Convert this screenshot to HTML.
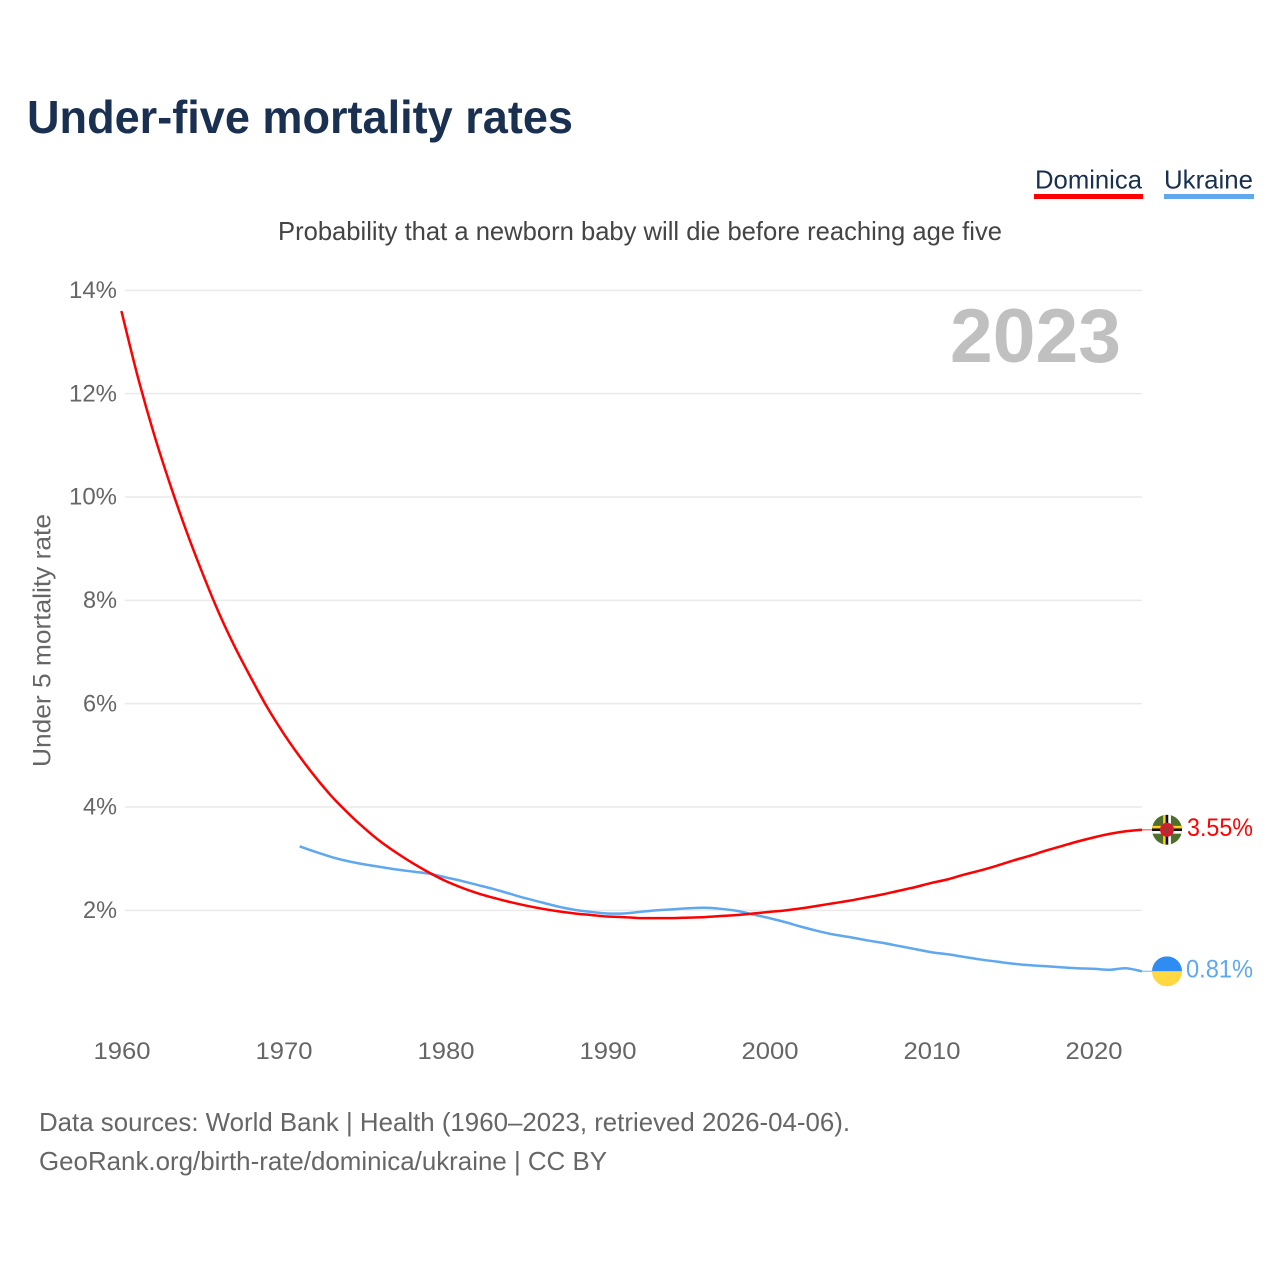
<!DOCTYPE html>
<html lang="en">
<head>
<meta charset="utf-8">
<title>Under-five mortality rates</title>
<style>
html,body{margin:0;padding:0;background:#fff;width:1280px;height:1280px;overflow:hidden}
svg{display:block}
text{font-family:"Liberation Sans",sans-serif}
</style>
</head>
<body>
<svg id="chart" xmlns="http://www.w3.org/2000/svg" width="1280" height="1280" viewBox="0 0 1280 1280">
  <rect width="1280" height="1280" fill="#fff"/>
  <text x="27" y="133" font-size="46" font-weight="700" fill="#1a3050" textLength="546" lengthAdjust="spacingAndGlyphs">Under-five mortality rates</text>
  <g>
    <text x="1035" y="188.5" font-size="26" fill="#1a3050" textLength="107" lengthAdjust="spacingAndGlyphs">Dominica</text>
    <rect x="1034" y="194" width="109" height="5" fill="#ff0000"/>
  </g>
  <g>
    <text x="1164" y="188.5" font-size="26" fill="#1a3050" textLength="89" lengthAdjust="spacingAndGlyphs">Ukraine</text>
    <rect x="1164" y="194" width="90" height="5" fill="#5fa8ef"/>
  </g>
  <text x="278" y="240" font-size="26" fill="#444" textLength="724" lengthAdjust="spacingAndGlyphs">Probability that a newborn baby will die before reaching age five</text>
  <g id="grid"></g>
  <g id="yticks"></g>
  <g id="xticks"></g>
  <text x="950" y="362" font-size="76" font-weight="700" fill="#c0c0c0" textLength="171" lengthAdjust="spacingAndGlyphs">2023</text>
  <text transform="translate(50.5,767) rotate(-90)" font-size="25" fill="#666" textLength="253" lengthAdjust="spacingAndGlyphs">Under 5 mortality rate</text>
  <path id="line-ukraine" fill="none" stroke="#5fa8ef" stroke-width="2.5" stroke-linejoin="round"/>
  <path id="line-dominica" fill="none" stroke="#ff0000" stroke-width="2.5" stroke-linejoin="round"/>
  <line id="lead-dominica" stroke="#ff8080" stroke-width="1.5"/>
  <line id="lead-ukraine" stroke="#9cc8f4" stroke-width="1.5"/>
  <defs>
    <clipPath id="flag-clip"><circle cx="0" cy="0" r="15"/></clipPath>
  </defs>
  <g id="flag-dominica" clip-path="url(#flag-clip)">
    <rect x="-15" y="-15" width="30" height="30" fill="#4f6f2c"/>
    <rect x="-3.9" y="-15" width="2.6" height="30" fill="#fcd116"/>
    <rect x="-1.3" y="-15" width="2.6" height="30" fill="#111"/>
    <rect x="1.3" y="-15" width="2.6" height="30" fill="#fff"/>
    <rect x="-15" y="-3.9" width="30" height="2.6" fill="#fcd116"/>
    <rect x="-15" y="-1.3" width="30" height="2.6" fill="#111"/>
    <rect x="-15" y="1.3" width="30" height="2.6" fill="#fff"/>
    <circle cx="0" cy="0" r="7" fill="#d41c30"/>
    <rect x="-0.8" y="-3" width="1.6" height="6" fill="#3f6b2a"/>
  </g>
  <g id="flag-ukraine" clip-path="url(#flag-clip)">
    <rect x="-15" y="-15" width="30" height="15" fill="#2f8cf2"/>
    <rect x="-15" y="0" width="30" height="15" fill="#ffd842"/>
  </g>
  <text id="value-dominica" x="1187" font-size="25" fill="#ff0000" textLength="66" lengthAdjust="spacingAndGlyphs"></text>
  <text id="value-ukraine" x="1186" font-size="25" fill="#5fa8ef" textLength="67" lengthAdjust="spacingAndGlyphs"></text>
  <text x="39" y="1131" font-size="26" fill="#666" textLength="811" lengthAdjust="spacingAndGlyphs">Data sources: World Bank | Health (1960–2023, retrieved 2026-04-06).</text>
  <text x="39" y="1170" font-size="26" fill="#666" textLength="568" lengthAdjust="spacingAndGlyphs">GeoRank.org/birth-rate/dominica/ukraine | CC BY</text>
</svg>
<script>
const dominicaStartYear = 1960;
const ukraineStartYear = 1971;
const dominicaValues = [13.6,12.34,11.23,10.25,9.35,8.53,7.77,7.1,6.5,5.93,5.43,4.98,4.57,4.2,3.88,3.59,3.33,3.11,2.91,2.73,2.57,2.44,2.33,2.24,2.16,2.09,2.03,1.98,1.94,1.91,1.88,1.87,1.85,1.85,1.85,1.86,1.87,1.89,1.91,1.94,1.97,2.0,2.04,2.09,2.14,2.19,2.25,2.31,2.38,2.45,2.53,2.6,2.69,2.77,2.86,2.96,3.05,3.15,3.24,3.33,3.41,3.48,3.53,3.56];
const ukraineValues = [3.24,3.13,3.03,2.95,2.89,2.84,2.79,2.75,2.71,2.64,2.57,2.49,2.41,2.32,2.23,2.15,2.07,2.01,1.97,1.94,1.94,1.97,2.0,2.02,2.04,2.05,2.03,1.99,1.92,1.85,1.77,1.68,1.6,1.53,1.48,1.42,1.37,1.31,1.25,1.19,1.15,1.1,1.05,1.01,0.97,0.94,0.92,0.9,0.88,0.87,0.85,0.88,0.82];
const yTickValues = [2,4,6,8,10,12,14];
const xTickYears = [1960,1970,1980,1990,2000,2010,2020];
const dominicaLabel = "3.55%";
const ukraineLabel = "0.81%";

const SVGNS = "http://www.w3.org/2000/svg";
function xScale(year){ return 121.4 + (year - 1960) * 16.2; }
function yScale(v){ return 1013.7 - v * 51.67; }
function make(tag, parentId){
  const el = document.createElementNS(SVGNS, tag);
  document.getElementById(parentId).appendChild(el);
  return el;
}
yTickValues.forEach(function(v){
  const y = yScale(v);
  const gl = make("line", "grid");
  
  
  gl.setAttribute("x1", 125);
  gl.setAttribute("x2", 1142);
  gl.setAttribute("y1", y);
  gl.setAttribute("y2", y);
  gl.setAttribute("stroke", "#eaeaea");
  gl.setAttribute("stroke-width", "1.5");
  const t = make("text", "yticks");
  
  
  const label = v + "%";
  const w = (label.length - 1) * 14 + 20;
  t.setAttribute("x", 117 - w);
  t.setAttribute("y", y + 7.7);
  t.setAttribute("font-size", "24");
  t.setAttribute("fill", "#666");
  t.setAttribute("textLength", w);
  t.setAttribute("lengthAdjust", "spacingAndGlyphs");
  t.textContent = label;
});
xTickYears.forEach(function(yr){
  const t = make("text", "xticks");
  
  
  t.setAttribute("x", xScale(yr) - 27.9);
  t.setAttribute("y", 1059);
  t.setAttribute("font-size", "24");
  t.setAttribute("fill", "#666");
  t.setAttribute("textLength", 57);
  t.setAttribute("lengthAdjust", "spacingAndGlyphs");
  t.textContent = String(yr);
});
function toPath(values, start){
  const pts = values.map(function(v, i){ return [xScale(start + i), yScale(v)]; });
  let d = "M" + pts[0][0].toFixed(2) + " " + pts[0][1].toFixed(2);
  for (let i = 0; i < pts.length - 1; i++) {
    const p0 = pts[Math.max(i - 1, 0)];
    const p1 = pts[i];
    const p2 = pts[i + 1];
    const p3 = pts[Math.min(i + 2, pts.length - 1)];
    const c1x = p1[0] + (p2[0] - p0[0]) / 6;
    const c1y = p1[1] + (p2[1] - p0[1]) / 6;
    const c2x = p2[0] - (p3[0] - p1[0]) / 6;
    const c2y = p2[1] - (p3[1] - p1[1]) / 6;
    d += "C" + c1x.toFixed(2) + " " + c1y.toFixed(2) + " " + c2x.toFixed(2) + " " + c2y.toFixed(2) + " " + p2[0].toFixed(2) + " " + p2[1].toFixed(2);
  }
  return d;
}
document.getElementById("line-dominica").setAttribute("d", toPath(dominicaValues, dominicaStartYear));
document.getElementById("line-ukraine").setAttribute("d", toPath(ukraineValues, ukraineStartYear));
function placeEnd(name, values, start, label){
  const last = values[values.length - 1];
  const lastX = xScale(start + values.length - 1);
  const y = yScale(last);
  const lead = document.getElementById("lead-" + name);
  lead.setAttribute("x1", lastX);
  lead.setAttribute("x2", 1152);
  lead.setAttribute("y1", y);
  lead.setAttribute("y2", y);
  document.getElementById("flag-" + name).setAttribute("transform", "translate(1167," + y + ")");
  const t = document.getElementById("value-" + name);
  t.setAttribute("y", y + 6);
  t.textContent = label;
}
placeEnd("dominica", dominicaValues, dominicaStartYear, dominicaLabel);
placeEnd("ukraine", ukraineValues, ukraineStartYear, ukraineLabel);
</script>
</body>
</html>
